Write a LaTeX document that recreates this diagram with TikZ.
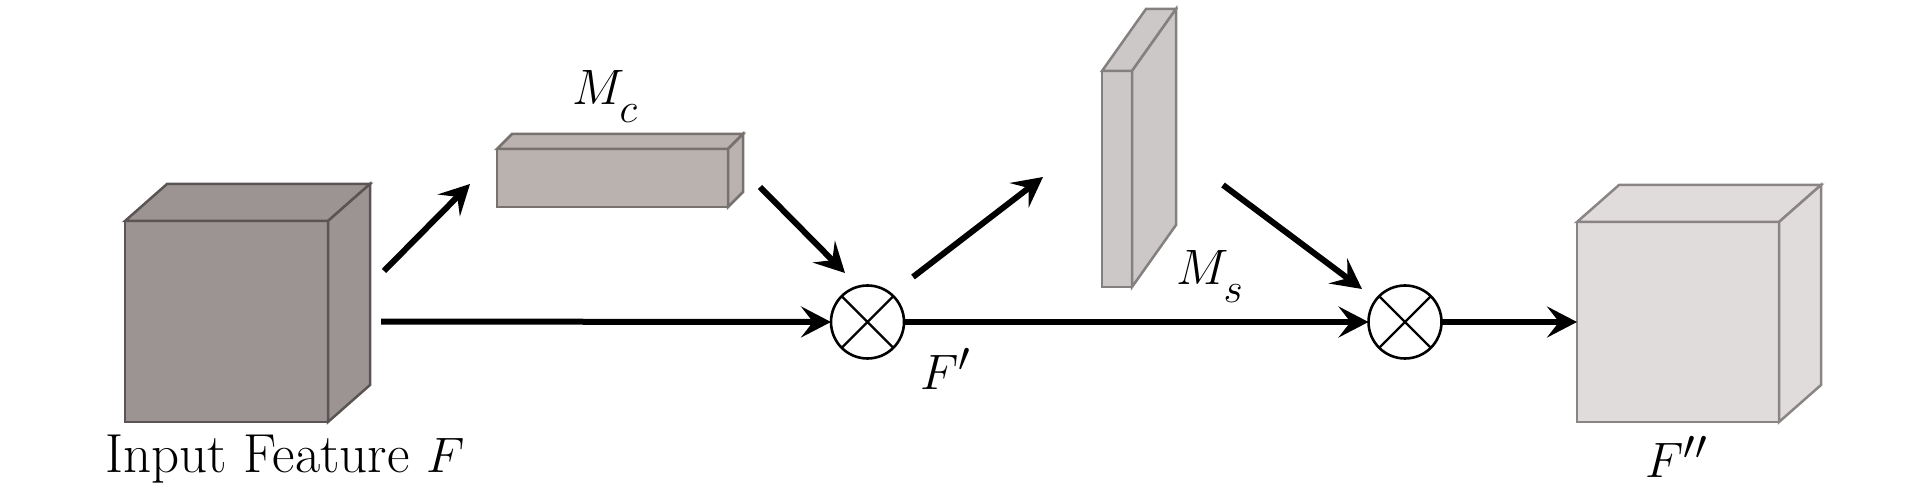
\documentclass[tikz,border=0pt]{standalone}
\usepackage{amsmath}
\usetikzlibrary{arrows.meta}
\definecolor{inFill}{HTML}{9B9493}
\definecolor{inEdge}{HTML}{5A5454}
\definecolor{mcFill}{HTML}{B9B2AF}
\definecolor{mcEdge}{HTML}{77716F}
\definecolor{msFill}{HTML}{CDC8C8}
\definecolor{msEdge}{HTML}{858080}
\definecolor{outFill}{HTML}{E0DCDB}
\definecolor{outEdge}{HTML}{8A8584}
\newcommand{\lowsub}[1]{_{\lower5pt\hbox{$\scriptstyle #1$}}}

\begin{document}
\begin{tikzpicture}[x=0.5pt, y=-0.5pt,
    feat/.style={draw, rectangle, line width=1.25pt, inner sep=0pt, outer sep=0pt},
    mult/.style={draw, circle, line width=1.3pt, minimum size=36.5pt, inner sep=0pt, outer sep=0pt},
    arr/.style={line width=3pt, -{Stealth[length=15pt, width=15.5pt, inset=6pt]}},
    lbl/.style={inner sep=0pt, font=\fontsize{27.5pt}{30pt}\selectfont}]
        \useasboundingbox (0,0) rectangle (1913,496);

        % Nodes
        \node (in) [feat, fill=inFill, draw=inEdge, minimum width=101.5pt, minimum height=100.5pt] at (226.5,321.5) {};
        \node (mc) [feat, fill=mcFill, draw=mcEdge, minimum width=115.5pt, minimum height=29pt] at (612.5,178) {};
        \node (ms) [feat, fill=msFill, draw=msEdge, minimum width=15pt, minimum height=108pt] at (1117,179) {};
        \node (out) [feat, fill=outFill, draw=outEdge, minimum width=101pt, minimum height=100pt] at (1678,322) {};
        \node (o1) [mult] at (867.5,322) {};
        \node (o2) [mult] at (1405,322) {};

        % Depth faces
        \draw [feat, fill=inFill, draw=inEdge] (in.north west) -- ++(42,-37) -- ([shift={(42,-37)}]in.north east) -- (in.north east) -- cycle;
        \draw [feat, fill=inFill, draw=inEdge] (in.north east) -- ++(42,-37) -- ([shift={(42,-37)}]in.south east) -- (in.south east) -- cycle;
        \draw [feat, fill=mcFill, draw=mcEdge] (mc.north west) -- ++(15,-15) -- ([shift={(15,-15)}]mc.north east) -- (mc.north east) -- cycle;
        \draw [feat, fill=mcFill, draw=mcEdge] (mc.north east) -- ++(15,-15) -- ([shift={(15,-15)}]mc.south east) -- (mc.south east) -- cycle;
        \draw [feat, fill=msFill, draw=msEdge] (ms.north west) -- ++(44,-62) -- ([shift={(44,-62)}]ms.north east) -- (ms.north east) -- cycle;
        \draw [feat, fill=msFill, draw=msEdge] (ms.north east) -- ++(44,-62) -- ([shift={(44,-62)}]ms.south east) -- (ms.south east) -- cycle;
        \draw [feat, fill=outFill, draw=outEdge] (out.north west) -- ++(42,-37) -- ([shift={(42,-37)}]out.north east) -- (out.north east) -- cycle;
        \draw [feat, fill=outFill, draw=outEdge] (out.north east) -- ++(42,-37) -- ([shift={(42,-37)}]out.south east) -- (out.south east) -- cycle;

        % Crosses
        \draw [line width=1.2pt] (o1.north west) -- (o1.south east) (o1.north east) -- (o1.south west);
        \draw [line width=1.2pt] (o2.north west) -- (o2.south east) (o2.north east) -- (o2.south west);

        % Labels
        \node (inlbl) [lbl, anchor=base] at (285,473) {Input Feature $F$};
        \node (mclbl) [lbl, anchor=base west] at (572,105) {$M\lowsub{c}$};
        \node (mslbl) [lbl, anchor=base west] at (1176,285) {$M\lowsub{s}$};
        \node (f1lbl) [lbl, anchor=base west] at (920,390) {$F'$};
        \node (f2lbl) [lbl, anchor=base west] at (1645,478) {$F''$};

        % Arrows
        \draw [arr] ([shift={(56,-50.5)}]in.east) -- ([shift={(-27,6)}]mc.west);
        \draw [arr] ([shift={(32,9)}]mc.east) -- ([shift={(-22.5,-12.5)}]o1.north);
        \draw [arr] ([shift={(19.7,-19.2)}]o1.north east) -- ([shift={(-59,-2)}]ms.west);
        \draw [arr] ([shift={(91,6)}]ms.east) -- ([shift={(-43,3.5)}]o2.north);
        \draw [arr, shorten <=26.5pt] (in.east) -- (o1.west);
        \draw [arr] (o1.east) -- (o2.west);
        \draw [arr] (o2.east) -- (out.west);
    \end{tikzpicture}
\end{document}
